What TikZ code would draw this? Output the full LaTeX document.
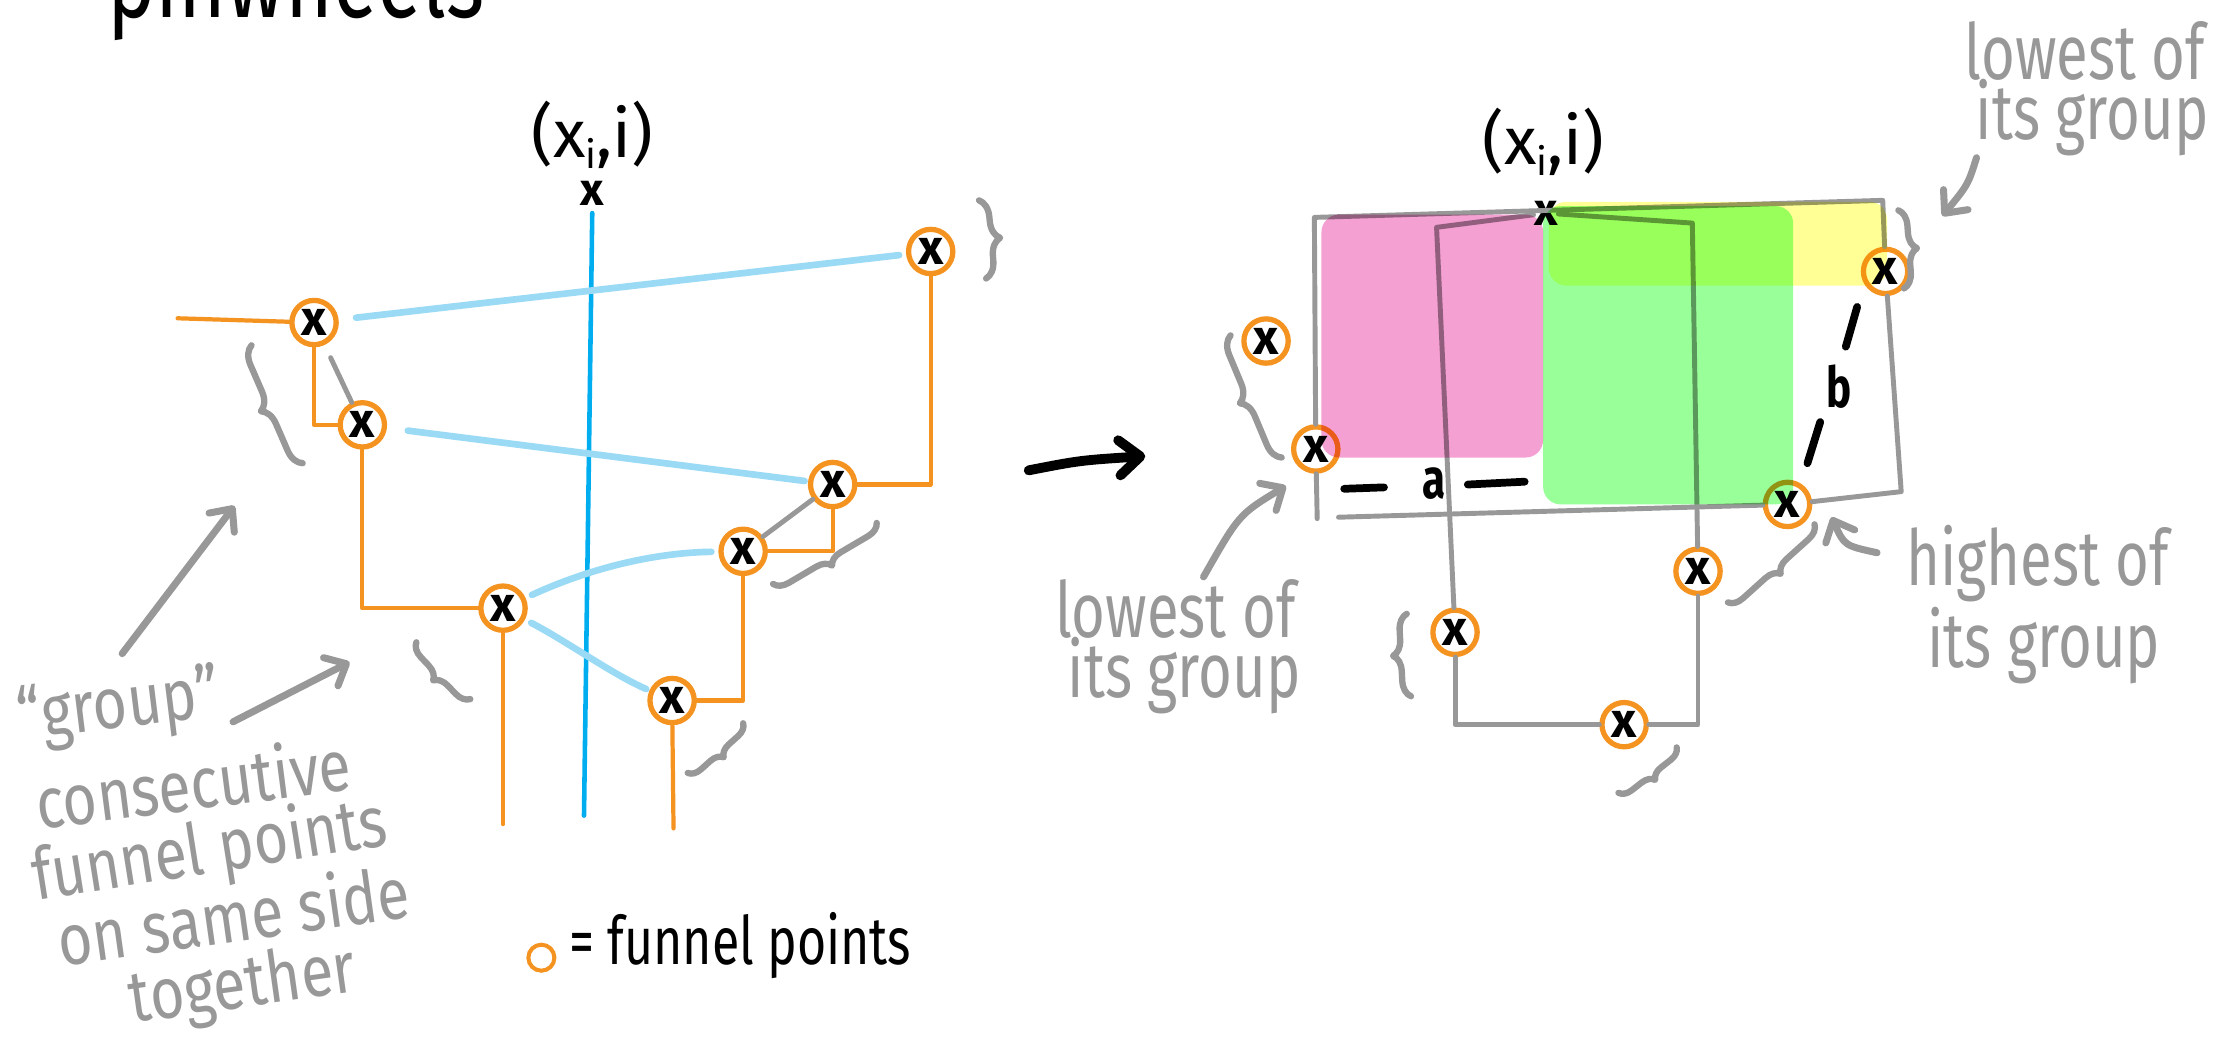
\documentclass[tikz,border=0pt]{standalone}
\usepackage{fontspec}
\setmainfont{Fira Sans}
\newfontfamily\hand[FakeStretch=0.75]{Fira Sans}
\newfontfamily\handl[FakeStretch=0.82]{Fira Sans}
\newfontfamily\handn{Fira Sans}
\usetikzlibrary{arrows.meta,decorations.pathreplacing}
\definecolor{forange}{RGB}{244,147,32}
\definecolor{vblue}{RGB}{0,174,239}
\definecolor{lblue}{RGB}{155,218,245}
\definecolor{hgray}{RGB}{152,152,152}
\definecolor{hpink}{RGB}{244,160,210}
\definecolor{hgreen}{RGB}{153,255,153}
\definecolor{hyellow}{RGB}{255,255,150}
\tikzset{
  fp/.style={circle, draw=forange, line width=1.5pt, minimum size=12.6pt, inner sep=0pt, fill=white, text=black, font=\fontsize{14}{14}\selectfont\bfseries},
  ptmark/.style={inner sep=0pt, text=black, font=\fontsize{13}{13}\selectfont\bfseries},
  ptlabel/.style={inner sep=0pt, text=black, font=\fontsize{19}{19}\selectfont\handn},
  oline/.style={draw=forange, line width=1.2pt, line cap=round, line join=round},
  vline/.style={draw=vblue, line width=1.3pt, line cap=round},
  lbline/.style={draw=lblue, line width=1.9pt, line cap=round},
  gline/.style={draw=hgray, line width=1.4pt, line cap=round, line join=round},
  gbrace/.style={draw=hgray, line width=1.8pt, line cap=round, line join=round, decorate, decoration={brace, amplitude=#1}},
  garrow/.style={draw=hgray, line width=2pt, line cap=round, -{Straight Barb[length=5pt,width=9pt,round]}},
  gtext/.style={text=hgray, inner sep=0pt, anchor=base west, font=\fontsize{22}{17}\selectfont\hand},
  ltext/.style={text=hgray, inner sep=0pt, anchor=base west, font=\fontsize{20.5}{17}\selectfont\handl},
  btext/.style={text=black, inner sep=0pt, anchor=base west, font=\fontsize{19}{19}\selectfont\hand},
  blet/.style={text=black, inner sep=0pt, font=\fontsize{16}{16}\selectfont\hand\bfseries},
  bmark/.style={draw=black, line width=2.2pt, line cap=round},
  hl/.style={blend mode=multiply, rounded corners=5pt},
}
\begin{document}
\begin{tikzpicture}[x=0.0142cm, y=-0.0142cm]
\useasboundingbox (0,0) rectangle (1568,736);
\clip (0,0) rectangle (1568,736);

% title
\node[anchor=base west, inner sep=0pt, text=black, font=\fontsize{31}{31}\selectfont\hand] (title) at (75,12) {pinwheels};

% ---------------- left diagram ----------------
\node[ptlabel] (LL) at (417,95) {(x\raisebox{-0.3ex}{\fontsize{11}{11}\selectfont i},i)};
\node[ptmark] (PL) at (417,136) {x};
\coordinate (vb) at (411,574);
\draw[vline, shorten <=2pt] (PL) -- (vb);

\node[fp] (A) at (655,177) {x};
\node[fp] (B) at (221,227) {x};
\node[fp] (C) at (255,299) {x};
\node[fp] (D) at (586,341) {x};
\node[fp] (E) at (354,428) {x};
\node[fp] (F) at (523,388) {x};
\node[fp] (H) at (473,493) {x};

\coordinate (Bl) at (125,224);
\coordinate (Ebot) at (354,580);
\coordinate (Hbot) at (474,583);

\draw[oline] (Bl) -- (B);
\draw[oline] (B) |- (C);
\draw[oline] (C) |- (E);
\draw[oline] (E) -- (Ebot);
\draw[oline] (D) -| (A);
\draw[oline] (F) -| (D);
\draw[oline] (H) -| (F);
\draw[oline] (H) -- (Hbot);

\draw[lbline, shorten <=5pt, shorten >=2pt] (B) -- (A);
\draw[lbline, shorten <=6pt, shorten >=1pt] (C) -- (D);
\draw[lbline, shorten <=2pt, shorten >=2pt] (E) .. controls (415,400) and (460,389) .. (F);
\draw[lbline, shorten <=2pt, shorten >=1pt] (E) .. controls (400,452) and (430,474) .. (H);

\draw[gline, shorten <=4pt] (B) -- (C);
\draw[gline] (F) -- (D);

\draw[gbrace=5pt] (689,141) -- (694,196);
\draw[gbrace=5pt] (213,326) -- (177,243);
\draw[gbrace=4pt] (331,492) -- (293,452);
\draw[gbrace=4pt] (617,368) -- (544,411);
\draw[gbrace=3.5pt] (523,509) -- (484,544);

% left text
\node[ltext, rotate=7] (g1) at (14,521) {“group”};
\node[ltext, rotate=7.3] (g2) at (27,584) {consecutive};
\node[ltext, rotate=9] (g3) at (25,634) {funnel points};
\node[ltext, rotate=8] (g4) at (43,680) {on same side};
\node[ltext, rotate=8] (g5) at (93,720) {together};
\coordinate (a1s) at (86,460);
\coordinate (a1e) at (165,356);
\draw[garrow] (a1s) -- (a1e);
\coordinate (a2s) at (164,508);
\coordinate (a2e) at (246,466);
\draw[garrow] (a2s) -- (a2e);

% legend
\node[circle, draw=forange, line width=1.15pt, minimum size=7.4pt, inner sep=0pt] (LG) at (381,674) {};
\node[btext] (LGT) at (400,679) {= funnel points};

% big arrow
\coordinate (ba1) at (724,331);
\coordinate (ba2) at (806,321);
\draw[line width=2.8pt, line cap=round, -{Straight Barb[length=6pt,width=10pt,round]}] (ba1) .. controls (760,324) .. (ba2);

% ---------------- right diagram ----------------
\node[ptlabel] (LR) at (1086,100) {(x\raisebox{-0.3ex}{\fontsize{11}{11}\selectfont i},i)};
\node[ptmark] (P) at (1088,150) {x};

\node[fp] (N1) at (891,240) {x};
\node[fp] (N2) at (926,316) {x};
\node[fp] (N3) at (1327,191) {x};
\node[fp] (N4) at (1258,355) {x};
\node[fp] (N5) at (1024,445) {x};
\node[fp] (N6) at (1195,402) {x};
\node[fp] (N7) at (1143,510) {x};

\coordinate (TL) at (925,153);
\coordinate (TR) at (1325,141);
\coordinate (LB) at (927,365);
\coordinate (BL) at (942,364);
\coordinate (BR) at (1338,346);
\coordinate (IL1) at (1011,160);
\coordinate (IR1) at (1191,157);

\draw[gline] (N2) -- (TL) -- (TR) -- (N3);
\draw[gline] (N2) -- (LB);
\draw[gline] (BL) -- (N4);
\draw[gline] (N3) -- (BR) -- (N4);
\draw[gline] (N5) -- (IL1) -- (P);
\draw[gline] (P) -- (IR1) -- (N6);
\draw[gline] (N5) |- (N7);
\draw[gline] (N7) -| (N6);

% highlighters
\fill[hl, hpink] (930,151) rectangle (1086,322);
\fill[hl, hgreen] (1086,145) rectangle (1262,355);
\fill[hl, hyellow] (1090,142) rectangle (1328,201);

% a and b
\draw[bmark] (946,344) -- (974,343);
\node[blet] (la) at (1009,340) {a};
\draw[bmark] (1033,341) -- (1073,339);
\draw[bmark] (1307,216) -- (1299,244);
\node[blet] (lb) at (1294,272) {b};
\draw[bmark] (1281,297) -- (1272,326);

% right braces
\draw[gbrace=4.5pt] (1336,148) -- (1340,203);
\draw[gbrace=5pt] (902,322) -- (866,236);
\draw[gbrace=4pt] (1277,369) -- (1216,424);
\draw[gbrace=4.5pt] (993,490) -- (990,432);
\draw[gbrace=3.5pt] (1180,526) -- (1139,558);

% right texts
\node[gtext] (t1) at (1382,56) {lowest of};
\node[gtext] (t2) at (1390,98) {its group};
\node[gtext] (t3) at (742,449) {lowest of};
\node[gtext] (t4) at (751,491) {its group};
\node[gtext] (t5) at (1341,412) {highest of};
\node[gtext] (t6) at (1356,470) {its group};

\coordinate (a3s) at (1391,111);
\coordinate (a3e) at (1367,152);
\draw[garrow] (a3s) .. controls (1385,130) .. (a3e);
\coordinate (a4s) at (1321,389);
\coordinate (a4e) at (1289,364);
\draw[garrow] (a4s) .. controls (1298,384) .. (a4e);
\coordinate (a5s) at (847,406);
\coordinate (a5e) at (905,342);
\draw[garrow] (a5s) .. controls (872,362) .. (a5e);
\end{tikzpicture}
\end{document}
